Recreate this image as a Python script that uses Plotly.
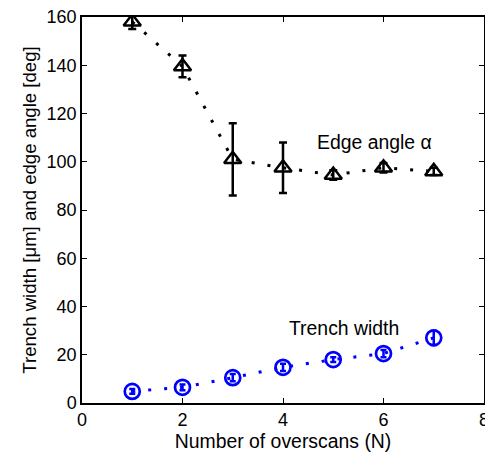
import plotly.graph_objects as go

overscans = [1, 2, 3, 4, 5, 6, 7]
edge_angle = [158, 139.5, 101, 97.5, 94.5, 97.5, 96]
edge_err = [3, 4.5, 15, 10.5, 2, 2, 1.5]
trench_width = [4.8, 6.5, 10.5, 14.8, 18, 20.5, 27]
trench_err = [1, 1.2, 1.5, 1.5, 1, 1.5, 3]

FONT = "Liberation Sans, Arial"
TITLE_SIZE = 19.4

fig = go.Figure()
fig.add_trace(go.Scatter(
    x=overscans, y=edge_angle, mode="lines+markers",
    line=dict(color="black", width=3, dash="3px,13px"),
    marker=dict(symbol="triangle-up-open", size=15, color="black", line=dict(width=2.5, color="black")),
    error_y=dict(type="data", array=edge_err, color="black", thickness=2.5, width=4),
    showlegend=False))
fig.add_trace(go.Scatter(
    x=overscans, y=trench_width, mode="lines+markers",
    line=dict(color="#0000ff", width=3, dash="3px,13px"),
    marker=dict(symbol="circle-open", size=15, color="#0000ff", line=dict(width=2.7, color="#0000ff")),
    error_y=dict(type="data", array=trench_err, color="#0000ff", thickness=2.5, width=3),
    showlegend=False))

fig.add_annotation(x=5.83, y=108, text="Edge angle α", showarrow=False,
                   font=dict(size=TITLE_SIZE, color="black", family=FONT))
fig.add_annotation(x=5.21, y=31, text="Trench width", showarrow=False,
                   font=dict(size=TITLE_SIZE, color="black", family=FONT))

axis_common = dict(showgrid=False, zeroline=False, showline=True, linecolor="black", linewidth=1.5,
                   mirror="ticks", ticks="inside", ticklen=5, tickcolor="black", automargin=False,
                   ticklabeloverflow="allow",
                   tickfont=dict(size=18, color="black", family=FONT))
fig.update_xaxes(range=[0, 8], dtick=2,
                 title=dict(text="Number of overscans (N)", font=dict(size=TITLE_SIZE, color="black", family=FONT), standoff=3),
                 **axis_common)
fig.update_yaxes(range=[0, 160], dtick=20,
                 title=dict(text="Trench width [μm] and edge angle [deg]", font=dict(size=18.6, color="black", family=FONT), standoff=5),
                 **axis_common)

# the page body has an 8px margin, so the figure is sized and offset for it
fig.update_layout(width=485, height=448, plot_bgcolor="white", paper_bgcolor="white",
                  font=dict(family=FONT, size=18, color="black"),
                  margin=dict(l=74, r=9, t=9, b=53))
fig.write_html("out.html")
